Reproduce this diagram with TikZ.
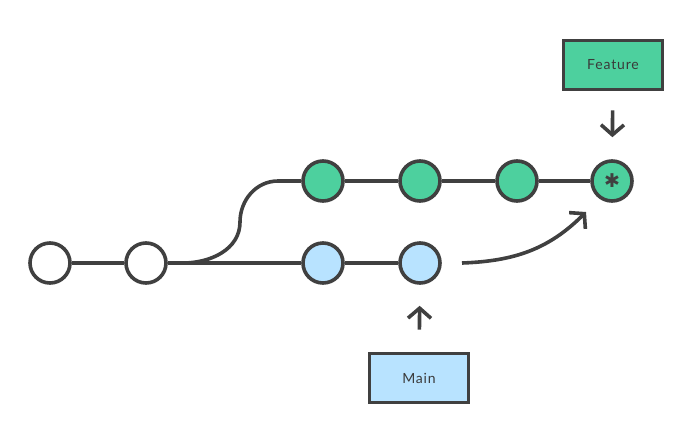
\documentclass[tikz,border=0pt]{standalone}
\usepackage{fontspec}
\setmainfont[LetterSpace=6]{Lato}
\newfontfamily\symfont{DejaVu Sans}
\usetikzlibrary{arrows.meta}
\definecolor{ink}{RGB}{64,64,64}
\definecolor{featgreen}{RGB}{77,208,158}
\definecolor{mainblue}{RGB}{184,227,255}
\tikzset{
  commit/.style={circle, draw=ink, line width=3.6pt, minimum size=40pt, inner sep=0pt},
  base/.style={commit, fill=white},
  feat/.style={commit, fill=featgreen},
  mainc/.style={commit, fill=mainblue},
  label/.style={draw=ink, line width=3.6pt, minimum width=99pt, minimum height=49pt,
    inner sep=0pt, font=\fontsize{14}{16}\selectfont, text=ink!90!black},
  edge/.style={draw=ink, line width=3.6pt},
  pointer/.style={edge, -{Straight Barb[length=10pt, width=23pt, line width=3.6pt]}},
}
\begin{document}
\begin{tikzpicture}[x=1pt, y=-1pt]
  \useasboundingbox (0,0) rectangle (693,429);

  % commits on the shared history
  \node[base] (c1) at (50,263) {};
  \node[base] (c2) at (146,263) {};

  % feature branch
  \node[feat] (f1) at (323,181) {};
  \node[feat] (f2) at (420,181) {};
  \node[feat] (f3) at (517,181) {};
  \node[feat] (f4) at (612,181) {};
  \node[inner sep=0pt, text=ink, font=\symfont\fontsize{19}{19}\selectfont] (tip) at (f4) {✱};

  % main branch
  \node[mainc] (m1) at (323,263) {};
  \node[mainc] (m2) at (420,263) {};

  % branch labels
  \node[label, fill=featgreen] (feature) at (613,65) {Feature};
  \node[label, fill=mainblue] (main) at (419,378) {Main};

  % history lines
  \coordinate (fork) at (183,263);
  \coordinate (rise) at (240,222);
  \coordinate (join) at (278,181);
  \path[edge] (c1) -- (c2);
  \path[edge] (c2) -- (m1) -- (m2);
  \path[edge] (fork) to[out=0, in=-90] (rise) to[out=90, in=180] (join) -- (f1);
  \path[edge] (f1) -- (f2) -- (f3) -- (f4);

  % rebase arrow
  \coordinate (moveFrom) at (462,263);
  \coordinate (moveTo) at (586,212);
  \draw[pointer] (moveFrom) to[out=2, in=225] (moveTo);

  % label pointers
  \draw[pointer, shorten <=19pt, shorten >=22pt] (feature) -- (f4);
  \draw[pointer, shorten <=22pt, shorten >=21pt] (main) -- (m2);
\end{tikzpicture}
\end{document}
